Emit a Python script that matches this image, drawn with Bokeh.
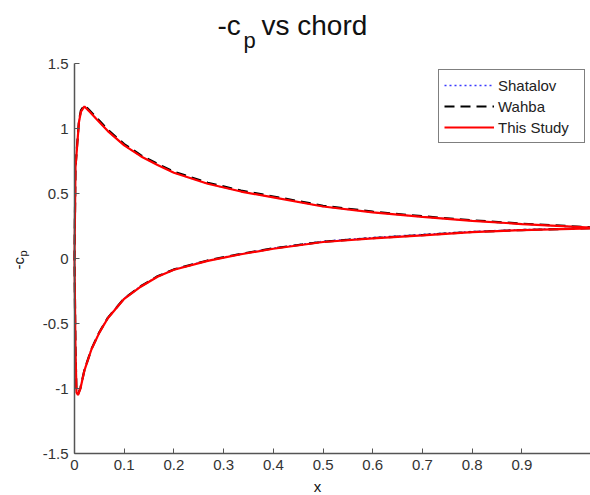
from bokeh.plotting import figure
from bokeh.models import Range1d, FixedTicker, Label, Legend, LegendItem
from bokeh.embed import file_html
from bokeh.resources import INLINE

# ---- data ----
# lower surface (trailing edge -> leading edge), then upper surface (leading edge -> trailing edge)
x_lower = [1.038, 1.0, 0.9, 0.8, 0.7, 0.6, 0.5, 0.4, 0.335, 0.268, 0.2, 0.167, 0.134,
           0.1, 0.067, 0.05, 0.034, 0.02, 0.012, 0.007, 0.004, 0.002, 0.0]
x_upper = [0.002, 0.005, 0.009, 0.013, 0.02, 0.03, 0.045, 0.067, 0.1, 0.134, 0.167, 0.2,
           0.268, 0.335, 0.4, 0.5, 0.6, 0.7, 0.8, 0.9, 1.0, 1.038]

study_lower = [0.232, 0.228, 0.218, 0.203, 0.178, 0.155, 0.127, 0.075, 0.033, -0.018, -0.087,
               -0.14, -0.215, -0.31, -0.46, -0.57, -0.70, -0.86, -1.0, -1.05, -1.03, -0.7, 0.0]
study_upper = [0.7, 0.85, 1.05, 1.13, 1.17, 1.13, 1.07, 0.98, 0.87, 0.785, 0.72, 0.66,
               0.575, 0.515, 0.47, 0.40, 0.355, 0.32, 0.29, 0.265, 0.245, 0.238]

wahba_lower = [0.234, 0.229, 0.219, 0.204, 0.180, 0.157, 0.129, 0.078, 0.036, -0.015, -0.084,
               -0.137, -0.212, -0.307, -0.457, -0.567, -0.697, -0.857, -0.995, -1.045, -1.03, -0.7, 0.0]
wahba_upper = [0.7, 0.86, 1.06, 1.14, 1.18, 1.14, 1.08, 0.99, 0.88, 0.793, 0.728, 0.668,
               0.583, 0.522, 0.477, 0.406, 0.36, 0.325, 0.294, 0.268, 0.248, 0.24]

shatalov_lower = [0.236, 0.232, 0.223, 0.209, 0.186, 0.162, 0.133, 0.08, 0.037, -0.014, -0.083,
                  -0.136, -0.21, -0.305, -0.455, -0.565, -0.695, -0.855, -0.995, -1.045, -1.03, -0.7, 0.0]
shatalov_upper = [0.7, 0.85, 1.05, 1.13, 1.17, 1.13, 1.07, 0.98, 0.87, 0.785, 0.72, 0.66,
                  0.575, 0.515, 0.47, 0.40, 0.355, 0.32, 0.29, 0.265, 0.245, 0.238]

x_ticks = [0, 0.1, 0.2, 0.3, 0.4, 0.5, 0.6, 0.7, 0.8, 0.9]
x_tick_labels = ["0", "0.1", "0.2", "0.3", "0.4", "0.5", "0.6", "0.7", "0.8", "0.9"]
y_ticks = [-1.5, -1, -0.5, 0, 0.5, 1, 1.5]
y_tick_labels = ["-1.5", "-1", "-0.5", "0", "0.5", "1", "1.5"]
x_limits = (0, 1.038)
y_limits = (-1.5, 1.5)

series_names = ["Shatalov", "Wahba", "This Study"]

# ---- layout: frame covers whole canvas, axes drawn at fixed locations ----
W, H = 590, 495
AX_L, AX_R, AX_T, AX_B = 74, 590, 63, 453   # axes box in page pixels
sx = (AX_R - AX_L) / (x_limits[1] - x_limits[0])
sy = (AX_B - AX_T) / (y_limits[1] - y_limits[0])
xr = Range1d(x_limits[0] - AX_L / sx, x_limits[1] + (W - AX_R) / sx)
yr = Range1d(y_limits[0] - (H - AX_B) / sy, y_limits[1] + AX_T / sy)

FONT = "Liberation Sans"
p = figure(width=W, height=H, output_backend="svg", toolbar_location=None,
           x_range=xr, y_range=yr, min_border=0)
p.background_fill_color = "white"
p.border_fill_color = "white"
p.outline_line_color = None
p.xgrid.visible = False
p.ygrid.visible = False

for ax, ticks, labels, loc, bnds in ((p.xaxis[0], x_ticks, x_tick_labels, y_limits[0], x_limits),
                                     (p.yaxis[0], y_ticks, y_tick_labels, x_limits[0], y_limits)):
    ax.fixed_location = loc
    ax.bounds = bnds
    ax.ticker = FixedTicker(ticks=ticks)
    ax.major_label_overrides = {t: l for t, l in zip(ticks, labels)}
    ax.major_tick_in = 5
    ax.major_tick_out = 0
    ax.minor_tick_in = 0
    ax.minor_tick_out = 0
    ax.axis_line_color = "#555555"
    ax.major_tick_line_color = "#555555"
    ax.axis_line_width = 1.5
    ax.major_label_text_font = FONT
    ax.major_label_text_font_size = "15px"
    ax.major_label_text_color = "#333333"
    ax.major_label_standoff = 6

xs = x_lower + x_upper
r_sh = p.line(xs, shatalov_lower + shatalov_upper, line_color="#3a3aff", line_width=1.3, line_dash="2 3")
r_wa = p.line(xs, wahba_lower + wahba_upper, line_color="black", line_width=2.2, line_dash="10 6")
r_st = p.line(xs, study_lower + study_upper, line_color="red", line_width=2.2)

legend = Legend(items=[LegendItem(label=series_names[0], renderers=[r_sh]),
                       LegendItem(label=series_names[1], renderers=[r_wa]),
                       LegendItem(label=series_names[2], renderers=[r_st])],
                location=(438, H - 143))
legend.padding = 5
legend.spacing = 1
legend.glyph_width = 50
legend.glyph_height = 20
legend.label_height = 20
legend.label_width = 81
legend.label_standoff = 4
legend.label_text_font = FONT
legend.label_text_font_size = "15px"
legend.label_text_color = "#222222"
legend.border_line_color = "black"
legend.border_line_width = 1
legend.background_fill_color = "white"
legend.background_fill_alpha = 1
p.add_layout(legend)

# ---- title and axis labels (screen units; frame == canvas); py is the text's middle line ----
def lab(text, px, py, size, align="left", angle=0):
    p.add_layout(Label(x=px, y=H - py, x_units="screen", y_units="screen", text=text,
                       text_font=FONT, text_font_size=size, text_align=align,
                       text_baseline="middle", text_color="#111111", angle=angle))

lab("-c", 217, 25, "28px")
lab("p", 243, 40, "22px")
lab("vs chord", 261, 25, "28px")
lab("x", 317, 486, "15px", align="center")
lab("-c", 18, 269, "15px", angle=1.5708)
lab("p", 22, 256, "11px", angle=1.5708)

open("out.html", "w").write(file_html(p, INLINE))
